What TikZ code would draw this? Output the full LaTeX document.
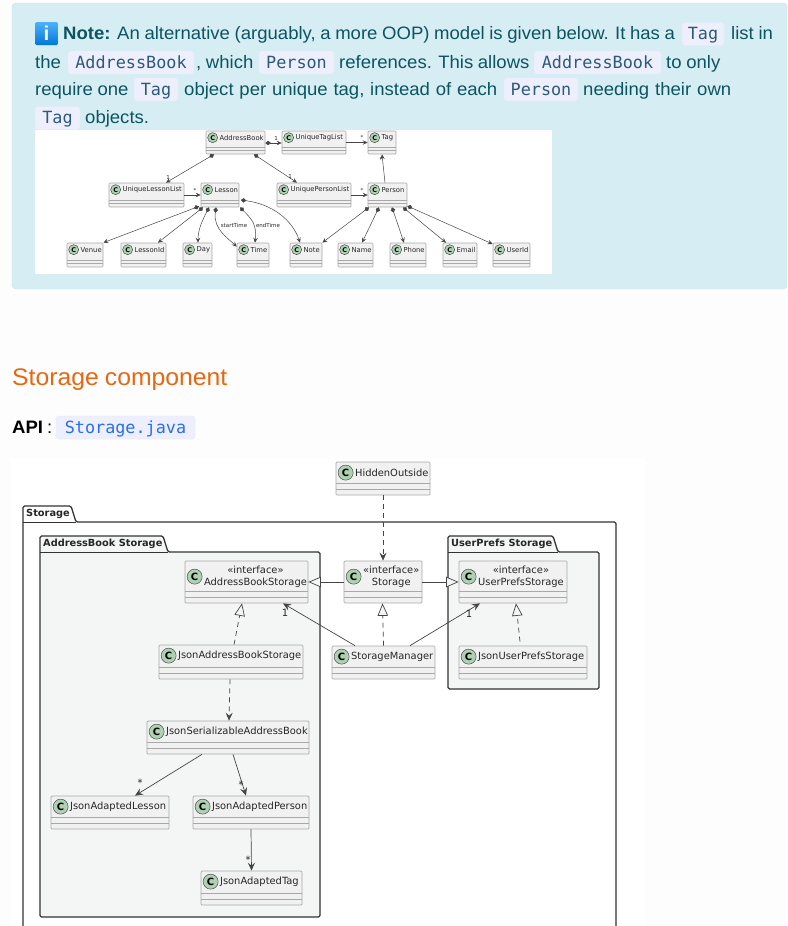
\documentclass[tikz,border=0pt]{standalone}
\usepackage{fontspec}
\setmainfont[FakeStretch=1.03,WordSpace=0.9]{Liberation Sans}
\setmonofont{DejaVu Sans Mono}
\newfontfamily\umlfont{DejaVu Sans}
\usetikzlibrary{arrows.meta}
\definecolor{pagebg}{HTML}{FDFDFD}
\definecolor{notebg}{HTML}{D6EEF3}
\definecolor{noteline}{HTML}{BEE5EB}
\definecolor{notetext}{HTML}{0C5460}
\definecolor{chipbg}{HTML}{EEEFFC}
\definecolor{chipline}{HTML}{E6E9F6}
\definecolor{chiptext}{HTML}{2C5A78}
\definecolor{headcol}{HTML}{E8670F}
\definecolor{apicol}{HTML}{2B6FE8}
\definecolor{umlfill}{HTML}{F1F1F1}
\definecolor{umlline}{HTML}{A8A8A8}
\definecolor{umlcirc}{HTML}{ADD1B2}
\definecolor{pkgfill}{HTML}{F4F6F6}
\definecolor{edgecol}{HTML}{454545}
\tikzset{
  body/.style={anchor=base west,inner sep=0pt,text=notetext,font=\fontsize{18}{22}\selectfont},
  chip/.style={anchor=base,inner sep=0pt,draw=chipline,fill=chipbg,rounded corners=3pt,text height=17pt,text depth=6pt,text=chiptext,font=\ttfamily\fontsize{16.8}{20}\selectfont},
  umlbox/.style={draw=umlline,fill=umlfill,rounded corners=1pt,inner sep=0pt,line width=.7pt},
  comp/.style={draw=umlline,line width=.6pt},
  pkg/.style={draw=black!80,line width=1.3pt,rounded corners=1.5pt},
  pkgname/.style={anchor=west,inner sep=0pt,font=\umlfont\bfseries\fontsize{9.8}{12}\selectfont,text=black!85},
  assoc/.style={draw=edgecol,line width=.7pt},
  depend/.style={assoc,dashed,dash pattern=on 5pt off 4pt},
  barb/.style={-{Stealth[length=8pt,width=7pt,inset=3pt]}},
  hollow/.style={-{Triangle[open,length=12.5pt,width=10.5pt,fill=pkgfill]}},
  small arrow/.style={-{Stealth[length=5pt,width=4.5pt,inset=2pt]},line width=.5pt},
  comp arrow/.style={{Diamond[length=5.5pt,width=4.5pt]}-{Stealth[length=5pt,width=4.5pt,inset=2pt]},line width=.5pt},
  mult/.style={inner sep=0pt,text=black!85,font=\umlfont\fontsize{\multsize}{10}\selectfont},
  role/.style={inner sep=0pt,text=black!85,font=\umlfont\fontsize{5.5}{8}\selectfont}
}
\newcommand\Cls[6]{
\node[umlbox,minimum width={(#4-#2)*1pt},minimum height={(#5-#3)*1pt}] (#1) at ({(#2+#4)/2},{(#3+#5)/2}) {};
\draw[comp] ([yshift=\compA pt]#1.south west) -- ([yshift=\compA pt]#1.south east);
\draw[comp] ([yshift=\compB pt]#1.south west) -- ([yshift=\compB pt]#1.south east);
\node[circle,draw=black!70,fill=umlcirc,line width=.5pt,inner sep=0pt,minimum size=\circD pt,font=\umlfont\bfseries\fontsize{\circF}{10}\selectfont] (#1C) at ([xshift=\circX pt,yshift=-\circY pt]#1.north west) {C};
\node[anchor=west,inner sep=0pt,align=center,text=black!85,font=\umlfont\fontsize{\clsF}{\clsL}\selectfont] (#1T) at ([xshift=1.5pt]#1C.east) {#6};
}
\newcommand\Chip[5]{
\node[chip,minimum width={(#3-#2)*1pt}] (#1) at ({(#2+#3)/2},#4) {#5};
}
\begin{document}
\begin{tikzpicture}[x=1pt,y=-1pt]
\useasboundingbox (0,0) rectangle (787,926);
\fill[pagebg] (0,0) rectangle (787,926);
\draw[noteline,fill=notebg,rounded corners=4pt] (12,3) -- (787,3) -- (787,289) -- (12,289) -- cycle;
\fill[white] (35,130) rectangle (552,274);
\fill[white] (11,458) rectangle (645,926);

\node[rounded corners=1.5pt,top color=black!5!cyan!60!blue!70,bottom color=blue!45!cyan!85!black,minimum size=23pt,inner sep=0pt,text=white,font=\bfseries\fontsize{20}{20}\selectfont] (icon) at (46.5,33.5) {i};
\node[body,font=\bfseries\fontsize{18}{22}\selectfont] (notelabel) at (63,39.5) {Note:};
\node[body] (line1a) at (117,39.5) {An alternative (arguably, a more OOP) model is given below. It has a};
\Chip{chipA}{682}{724}{39.5}{Tag}
\node[body] (line1b) at (731,39.5) {list in};
\node[body] (line2a) at (35,68) {the};
\Chip{chipB}{68}{194}{68}{AddressBook}
\node[body] (line2b) at (196,68) {, which};
\Chip{chipC}{259}{334}{68}{Person}
\node[body] (line2c) at (339,68) {references. This allows};
\Chip{chipD}{534}{661}{68}{AddressBook}
\node[body] (line2d) at (666,68) {to only};
\node[body] (line3a) at (35,95) {require one};
\Chip{chipE}{134}{178}{95}{Tag}
\node[body] (line3b) at (184,95) {\spaceskip=5.8pt object per unique tag, instead of each};
\Chip{chipF}{504}{578}{95}{Person}
\node[body] (line3c) at (583,95) {\spaceskip=6pt needing their own};
\Chip{chipG}{35}{80}{123.5}{Tag}
\node[body] (line4a) at (85,123.5) {objects.};

\def\compA{7}\def\compB{4}\def\circD{10}\def\circF{6.5}\def\circX{7}\def\circY{7}\def\clsF{6.8}\def\clsL{8}
\Cls{addressbook}{206}{131}{265}{154}{AddressBook}
\Cls{uniquetaglist}{282}{131}{346}{154}{UniqueTagList}
\Cls{tag}{368}{131}{396}{154}{Tag}
\Cls{uniquelessonlist}{109}{183}{184}{207}{UniqueLessonList}
\Cls{lesson}{201}{183}{239}{207}{Lesson}
\Cls{uniquepersonlist}{277}{183}{351}{207}{UniquePersonList}
\Cls{person}{368}{183}{407}{207}{Person}
\Cls{venue}{67}{243}{103}{267}{Venue}
\Cls{lessonid}{121}{243}{166}{267}{LessonId}
\Cls{day}{183}{243}{212}{267}{Day}
\Cls{time}{237}{243}{269}{267}{Time}
\Cls{note}{290}{243}{322}{267}{Note}
\Cls{name}{338}{243}{373}{267}{Name}
\Cls{phone}{390}{243}{426}{267}{Phone}
\Cls{email}{443}{243}{477}{267}{Email}
\Cls{userid}{493}{243}{530}{267}{UserId}

\draw[assoc,comp arrow] ([yshift=-.5pt]addressbook.east) -- ([yshift=-.5pt]uniquetaglist.west);
\draw[assoc,comp arrow] ([xshift=-21.5pt]addressbook.south) -- ([xshift=19.5pt]uniquelessonlist.north);
\draw[assoc,comp arrow] ([xshift=18.5pt]addressbook.south) -- ([xshift=-17pt]uniquepersonlist.north);
\draw[assoc,small arrow] (uniquetaglist.east) -- (tag.west);
\draw[assoc,small arrow] (uniquelessonlist.east) -- (lesson.west);
\draw[assoc,small arrow] (uniquepersonlist.east) -- (person.west);
\draw[assoc,small arrow] ([xshift=-2.5pt]person.north) -- ([xshift=0pt]tag.south);
\draw[assoc,comp arrow] ([xshift=-21pt,yshift=1pt]lesson.south) -- (venue.north east);
\draw[assoc,comp arrow] ([xshift=-17pt]lesson.south) -- ([xshift=14.5pt]lessonid.north);
\draw[assoc,comp arrow] ([xshift=-11pt]lesson.south) .. controls +(-6,12) and +(0,-14) .. ([xshift=.5pt]day.north);
\draw[assoc,comp arrow] ([xshift=-4pt]lesson.south) .. controls +(-3,22) and +(-8,-8) .. ([yshift=-4pt]time.north west);
\draw[assoc,comp arrow] ([xshift=20pt]lesson.south) .. controls +(12,12) and +(2,-18) .. ([xshift=2pt]time.north);
\draw[assoc,comp arrow] ([xshift=1.5pt,yshift=-5pt]lesson.east) .. controls +(30,4) and +(-8,-24) .. ([xshift=-6pt]note.north);
\draw[assoc,comp arrow] ([xshift=-18.5pt]person.south) -- (note.north east);
\draw[assoc,comp arrow] ([xshift=-8.5pt]person.south) -- ([xshift=6.5pt]name.north);
\draw[assoc,comp arrow] ([xshift=4.5pt]person.south) -- ([xshift=-4pt]phone.north);
\draw[assoc,comp arrow] ([xshift=15.5pt]person.south) -- ([xshift=-14pt]email.north);
\draw[assoc,comp arrow] ([yshift=-11pt]person.east) -- ([yshift=11pt]userid.west);

\def\multsize{5.5}
\foreach \mx/\my/\mt [count=\i] in {276/138/1,362/137/*,168/177/1,290/176/1,195/190/*,362/190/*,381/159/*}
  \node[mult] (smallm\i) at (\mx,\my) {\mt};
\node[role] (starttime) at (234,225) {startTime};
\node[role] (endtime) at (268,225) {endTime};

\node[anchor=base west,inner sep=0pt,text=headcol,font=\fontsize{24}{28}\selectfont] (heading) at (12,385) {Storage component};
\node[anchor=base west,inner sep=0pt,font=\bfseries\fontsize{18}{22}\selectfont] (apilabel) at (12,433) {API};
\node[anchor=base west,inner sep=0pt,font=\fontsize{18}{22}\selectfont] (apicolon) at (47,433) {:};
\Chip{apichip}{56}{195}{433}{\textcolor{apicol}{Storage.java}}

\draw[pkg,fill=white] (23,926) -- (23,506) -- (71,506) -- (76,522) -- (616,522) -- (616,926);
\draw[black!80,line width=1pt] (23,522) -- (76,522);
\node[pkgname] (storagepkg) at (26,513.5) {Storage};
\draw[pkg,fill=pkgfill] (40,917) -- (40,536) -- (163,536) -- (168,552) -- (320,552) -- (320,917) -- cycle;
\draw[black!80,line width=1pt] (40,552) -- (168,552);
\node[pkgname] (abpkg) at (43,543.5) {AddressBook Storage};
\draw[pkg,fill=pkgfill] (448,689) -- (448,536) -- (553,536) -- (558,552) -- (599,552) -- (599,689) -- cycle;
\draw[black!80,line width=1pt] (448,552) -- (558,552);
\node[pkgname] (uppkg) at (451,543.5) {UserPrefs Storage};

\def\compA{12}\def\compB{6.5}\def\circD{15}\def\circF{10}\def\circX{10}\def\circY{11}\def\clsF{9.9}\def\clsL{11.5}
\Cls{hiddenoutside}{336}{462}{430}{495}{HiddenOutside}
\Cls{jsonabstorage}{159}{645}{303}{679}{JsonAddressBookStorage}
\Cls{storagemanager}{332}{646}{435}{679}{StorageManager}
\Cls{jsonupstorage}{459}{646}{587}{679}{JsonUserPrefsStorage}
\Cls{jsonserial}{147}{721}{309}{754}{JsonSerializableAddressBook}
\Cls{jsonlesson}{51}{796}{169}{829}{JsonAdaptedLesson}
\Cls{jsonperson}{193}{796}{309}{829}{JsonAdaptedPerson}
\Cls{jsontag}{201}{871}{302}{905}{JsonAdaptedTag}
\def\circY{16}
\Cls{absinterface}{185}{561}{308}{603}{«interface»\\AddressBookStorage}
\Cls{storageif}{344}{561}{422}{603}{«interface»\\Storage}
\Cls{upsinterface}{459}{561}{567}{603}{«interface»\\UserPrefsStorage}

\draw[depend,barb] (hiddenoutside.south) -- (storageif.north);
\draw[assoc,hollow] (storageif.west) -- (absinterface.east);
\draw[assoc,hollow] (storageif.east) -- (upsinterface.west);
\draw[depend,hollow] (storagemanager.north) -- ([xshift=-.5pt]storageif.south);
\draw[assoc,barb] ([xshift=-28.5pt]storagemanager.north) -- ([xshift=36.5pt]absinterface.south);
\draw[assoc,barb] ([xshift=26.5pt]storagemanager.north) -- ([xshift=-33pt]upsinterface.south);
\draw[depend,hollow] ([xshift=3pt]jsonabstorage.north) -- ([xshift=-4.5pt]absinterface.south);
\draw[depend,hollow] ([xshift=-3pt,yshift=4pt]jsonupstorage.north) -- ([xshift=3pt]upsinterface.south);
\draw[depend,barb] ([xshift=-1pt]jsonabstorage.south) -- ([xshift=1pt]jsonserial.north);
\draw[assoc,barb] ([xshift=-26pt]jsonserial.south) -- ([xshift=25pt]jsonlesson.north);
\draw[assoc,barb] ([xshift=5pt]jsonserial.south) -- ([xshift=-5pt]jsonperson.north);
\draw[assoc,barb] (jsonperson.south) -- (jsontag.north);

\def\multsize{10}
\foreach \mx/\my/\mt [count=\i] in {285/613/1,469/614/1,140/783/*,241/785/*,248/860/*}
  \node[mult] (bigm\i) at (\mx,\my) {\mt};
\end{tikzpicture}
\end{document}
